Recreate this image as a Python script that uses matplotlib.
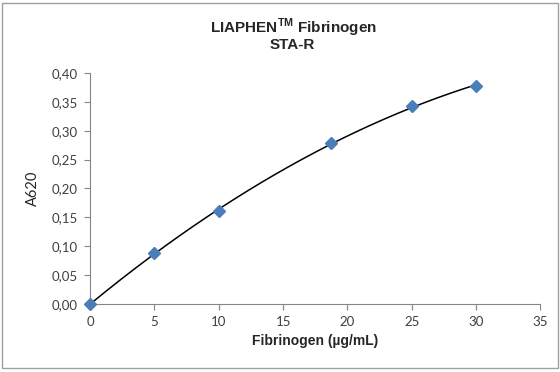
import numpy as np
import matplotlib
matplotlib.use('agg')
from matplotlib import pyplot as plt
from matplotlib.patches import Rectangle

# standard curve points
fib = [0, 5, 10, 18.75, 25, 30]
a620 = [0.0, 0.088, 0.161, 0.278, 0.342, 0.378]
xticks = [0, 5, 10, 15, 20, 25, 30, 35]
yticks = [0.00, 0.05, 0.10, 0.15, 0.20, 0.25, 0.30, 0.35, 0.40]

plt.rcParams['mathtext.fontset'] = 'custom'
plt.rcParams['mathtext.bf'] = 'Liberation Sans:bold'
plt.rcParams['mathtext.rm'] = 'Liberation Sans:bold'

grey = '#868686'
txt = '#404040'

fig = plt.figure(figsize=(5.6, 3.72), dpi=100)
ax = fig.add_axes([0.161, 0.183, 0.804, 0.621])

# 2nd order polynomial trendline
coef = np.polyfit(fib, a620, 2)
xs = np.linspace(min(fib), max(fib), 200)
ax.plot(xs, np.polyval(coef, xs), color='black', lw=1.1, zorder=2)
ax.plot(fib, a620, 'D', color='#4a7ebb', markersize=6.5, zorder=3, clip_on=False)

ax.set_xlim(0, 35)
ax.set_ylim(0, 0.40)
ax.set_xticks(xticks)
ax.set_yticks(yticks)
ax.set_xticklabels([str(v) for v in xticks], fontfamily='Lato', fontsize=9.5, color=txt)
ax.set_yticklabels([('%.2f' % v).replace('.', ',') for v in yticks], fontfamily='Lato', fontsize=9.5, color=txt)
for s in ['top', 'right']:
    ax.spines[s].set_visible(False)
for s in ['left', 'bottom']:
    ax.spines[s].set_color(grey)
ax.tick_params(colors=grey, length=4, width=0.8, labelcolor=txt, pad=5)

ax.set_xlabel('Fibrinogen (µg/mL)', fontfamily='Liberation Sans', fontweight='bold', fontsize=10, color='#262626', labelpad=4)
ax.set_ylabel('A620', fontfamily='Lato', fontsize=10.5, color='#262626', labelpad=8)

fig.text(0.525, 0.925, r'LIAPHEN$^{\mathbf{TM}}$ Fibrinogen', ha='center', va='center',
         fontfamily='Liberation Sans', fontweight='bold', fontsize=11, color='#262626')
fig.text(0.522, 0.88, 'STA-R', ha='center', va='center',
         fontfamily='Liberation Sans', fontweight='bold', fontsize=11, color='#262626')

fig.patches.append(Rectangle((0.003, 0.01), 0.993, 0.982, transform=fig.transFigure,
                             fill=False, edgecolor='#a0a0a0', lw=1.0))

fig.savefig('out.png', dpi=100)
